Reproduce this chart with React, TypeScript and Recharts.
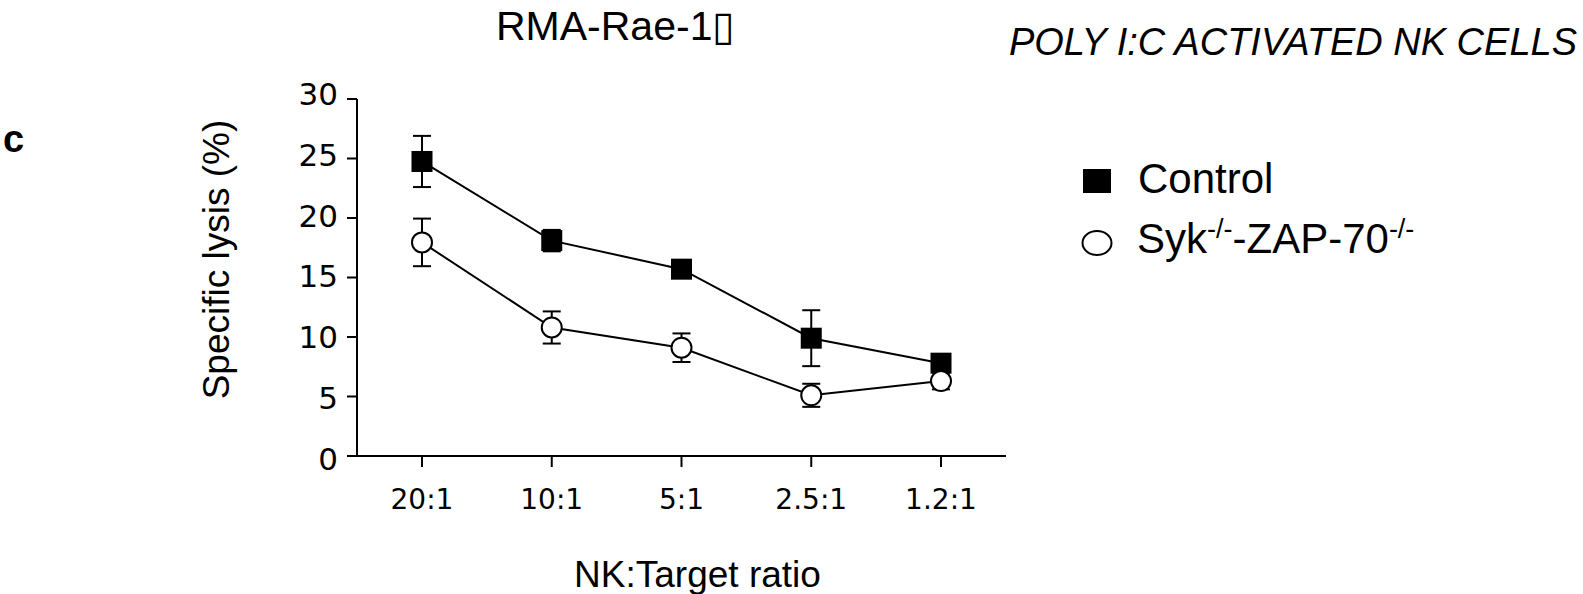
import React from 'react';
import { LineChart, Line, XAxis, YAxis, ErrorBar, Legend, Label } from 'recharts';

// NK:Target ratios on the x axis
const ratios = ['20:1', '10:1', '5:1', '2.5:1', '1.2:1'];

// specific lysis (%), mean and error
const controlLysis = [24.75, 18.1, 15.7, 9.9, 7.8];
const controlErr = [2.15, 0.9, 0.5, 2.35, 0.5];
const sykLysis = [17.95, 10.8, 9.1, 5.1, 6.3];
const sykErr = [2.0, 1.35, 1.2, 0.97, 0.7];

const yTicks = [0, 5, 10, 15, 20, 25, 30];

const data = ratios.map((ratio, i) => ({
  ratio,
  control: controlLysis[i],
  controlErr: controlErr[i],
  syk: sykLysis[i],
  sykErr: sykErr[i],
}));

const SANS = '"Liberation Sans", Arial, Helvetica, sans-serif';
const TICK_FONT = '"DejaVu Sans", sans-serif';

const renderSquare = (p: any) => {
  if (p.cx == null || p.cy == null) return <g key={`sq-${p.index}`} />;
  return <rect key={`sq-${p.index}`} x={p.cx - 10.5} y={p.cy - 10.5} width={21} height={21} fill="#000" />;
};

// y tick labels in the original sit a bit off their ticks (higher at the top)
const YTick = (props: any) => {
  const { x, y, payload } = props;
  const v = Number(payload.value);
  const shift = -5 + (30 - v) * 0.25;
  return (
    <text
      x={x}
      y={y + shift}
      textAnchor="end"
      dominantBaseline="central"
      fontFamily={TICK_FONT}
      fontSize={31}
      fill="#000"
    >
      {payload.value}
    </text>
  );
};

const renderYLabel = (props: any) => {
  const vb = props.viewBox || { x: 0, y: 0, width: 0, height: 0 };
  const x = vb.x + 16;
  const y = vb.y + vb.height / 2 - 18;
  return (
    <text
      x={x}
      y={y}
      transform={`rotate(-90, ${x}, ${y})`}
      textAnchor="middle"
      dominantBaseline="central"
      fontFamily={SANS}
      fontSize={37}
      fill="#000"
    >
      Specific lysis (%)
    </text>
  );
};

const renderXLabel = (props: any) => {
  const vb = props.viewBox || { x: 0, y: 0, width: 0, height: 0 };
  return (
    <text
      x={vb.x + vb.width / 2 + 16}
      y={vb.y + vb.height - 7}
      textAnchor="middle"
      fontFamily={SANS}
      fontSize={37}
      fill="#000"
    >
      NK:Target ratio
    </text>
  );
};

const renderLegend = () => (
  <svg width={420} height={130} style={{ overflow: 'visible' }}>
    <rect x={13} y={19} width={28} height={24} fill="#000" />
    <text x={68} y={43} fontFamily={SANS} fontSize={42} fill="#000">
      Control
    </text>
    <ellipse cx={27} cy={93} rx={14.5} ry={12} fill="#fff" stroke="#000" strokeWidth={2} />
    <text x={67} y={103} fontFamily={SANS} fontSize={42} fill="#000">
      Syk
      <tspan fontSize={27} dy={-15}>-/-</tspan>
      <tspan fontSize={42} dy={15}>-ZAP-70</tspan>
      <tspan fontSize={27} dy={-15}>-/-</tspan>
    </text>
  </svg>
);

export default function App() {
  return (
    <div style={{ position: 'absolute', left: 0, top: 0, width: 1583, height: 594, background: '#fff' }}>
      <LineChart
        width={1583}
        height={594}
        data={data}
        margin={{ top: 99, right: 577, bottom: 0, left: 200 }}
      >
        <XAxis
          dataKey="ratio"
          height={138}
          padding={{ left: 65, right: 65 }}
          stroke="#000"
          strokeWidth={2}
          tickSize={11}
          tickMargin={22}
          tick={{ fill: '#000', fontSize: 28, fontFamily: TICK_FONT }}
          tickLine={{ stroke: '#000', strokeWidth: 2 }}
        >
          <Label content={renderXLabel} />
        </XAxis>
        <YAxis
          width={157}
          domain={[0, 30]}
          ticks={yTicks}
          interval={0}
          stroke="#000"
          strokeWidth={2}
          tickSize={10}
          tickMargin={9}
          tick={<YTick />}
          tickLine={{ stroke: '#000', strokeWidth: 2 }}
        >
          <Label content={renderYLabel} />
        </YAxis>
        <Legend
          layout="horizontal"
          verticalAlign="middle"
          align="center"
          content={renderLegend}
          wrapperStyle={{ position: 'absolute', left: 1070, top: 150, width: 420, height: 130 }}
        />
        <Line
          name="Control"
          dataKey="control"
          stroke="#000"
          strokeWidth={2}
          dot={renderSquare}
          activeDot={false}
          isAnimationActive={false}
        >
          <ErrorBar dataKey="controlErr" width={9} stroke="#000" strokeWidth={2} direction="y" />
        </Line>
        <Line
          name="Syk-/--ZAP-70-/-"
          dataKey="syk"
          stroke="#000"
          strokeWidth={2}
          dot={{ r: 10, fill: '#fff', stroke: '#000', strokeWidth: 2 }}
          activeDot={false}
          isAnimationActive={false}
        >
          <ErrorBar dataKey="sykErr" width={9} stroke="#000" strokeWidth={2} direction="y" />
        </Line>
      </LineChart>
      <svg
        width={1583}
        height={594}
        style={{ position: 'absolute', left: 0, top: 0, pointerEvents: 'none' }}
      >
        <text x={3} y={152} fontFamily={SANS} fontSize={38} fontWeight="bold" fill="#000">
          c
        </text>
        <text x={496} y={40} fontFamily={SANS} fontSize={41} fill="#000">
          RMA-Rae-1▯
        </text>
        <text
          x={1577}
          y={55}
          textAnchor="end"
          fontFamily={SANS}
          fontSize={38}
          fontStyle="italic"
          fill="#000"
        >
          POLY I:C ACTIVATED NK CELLS
        </text>
      </svg>
    </div>
  );
}
